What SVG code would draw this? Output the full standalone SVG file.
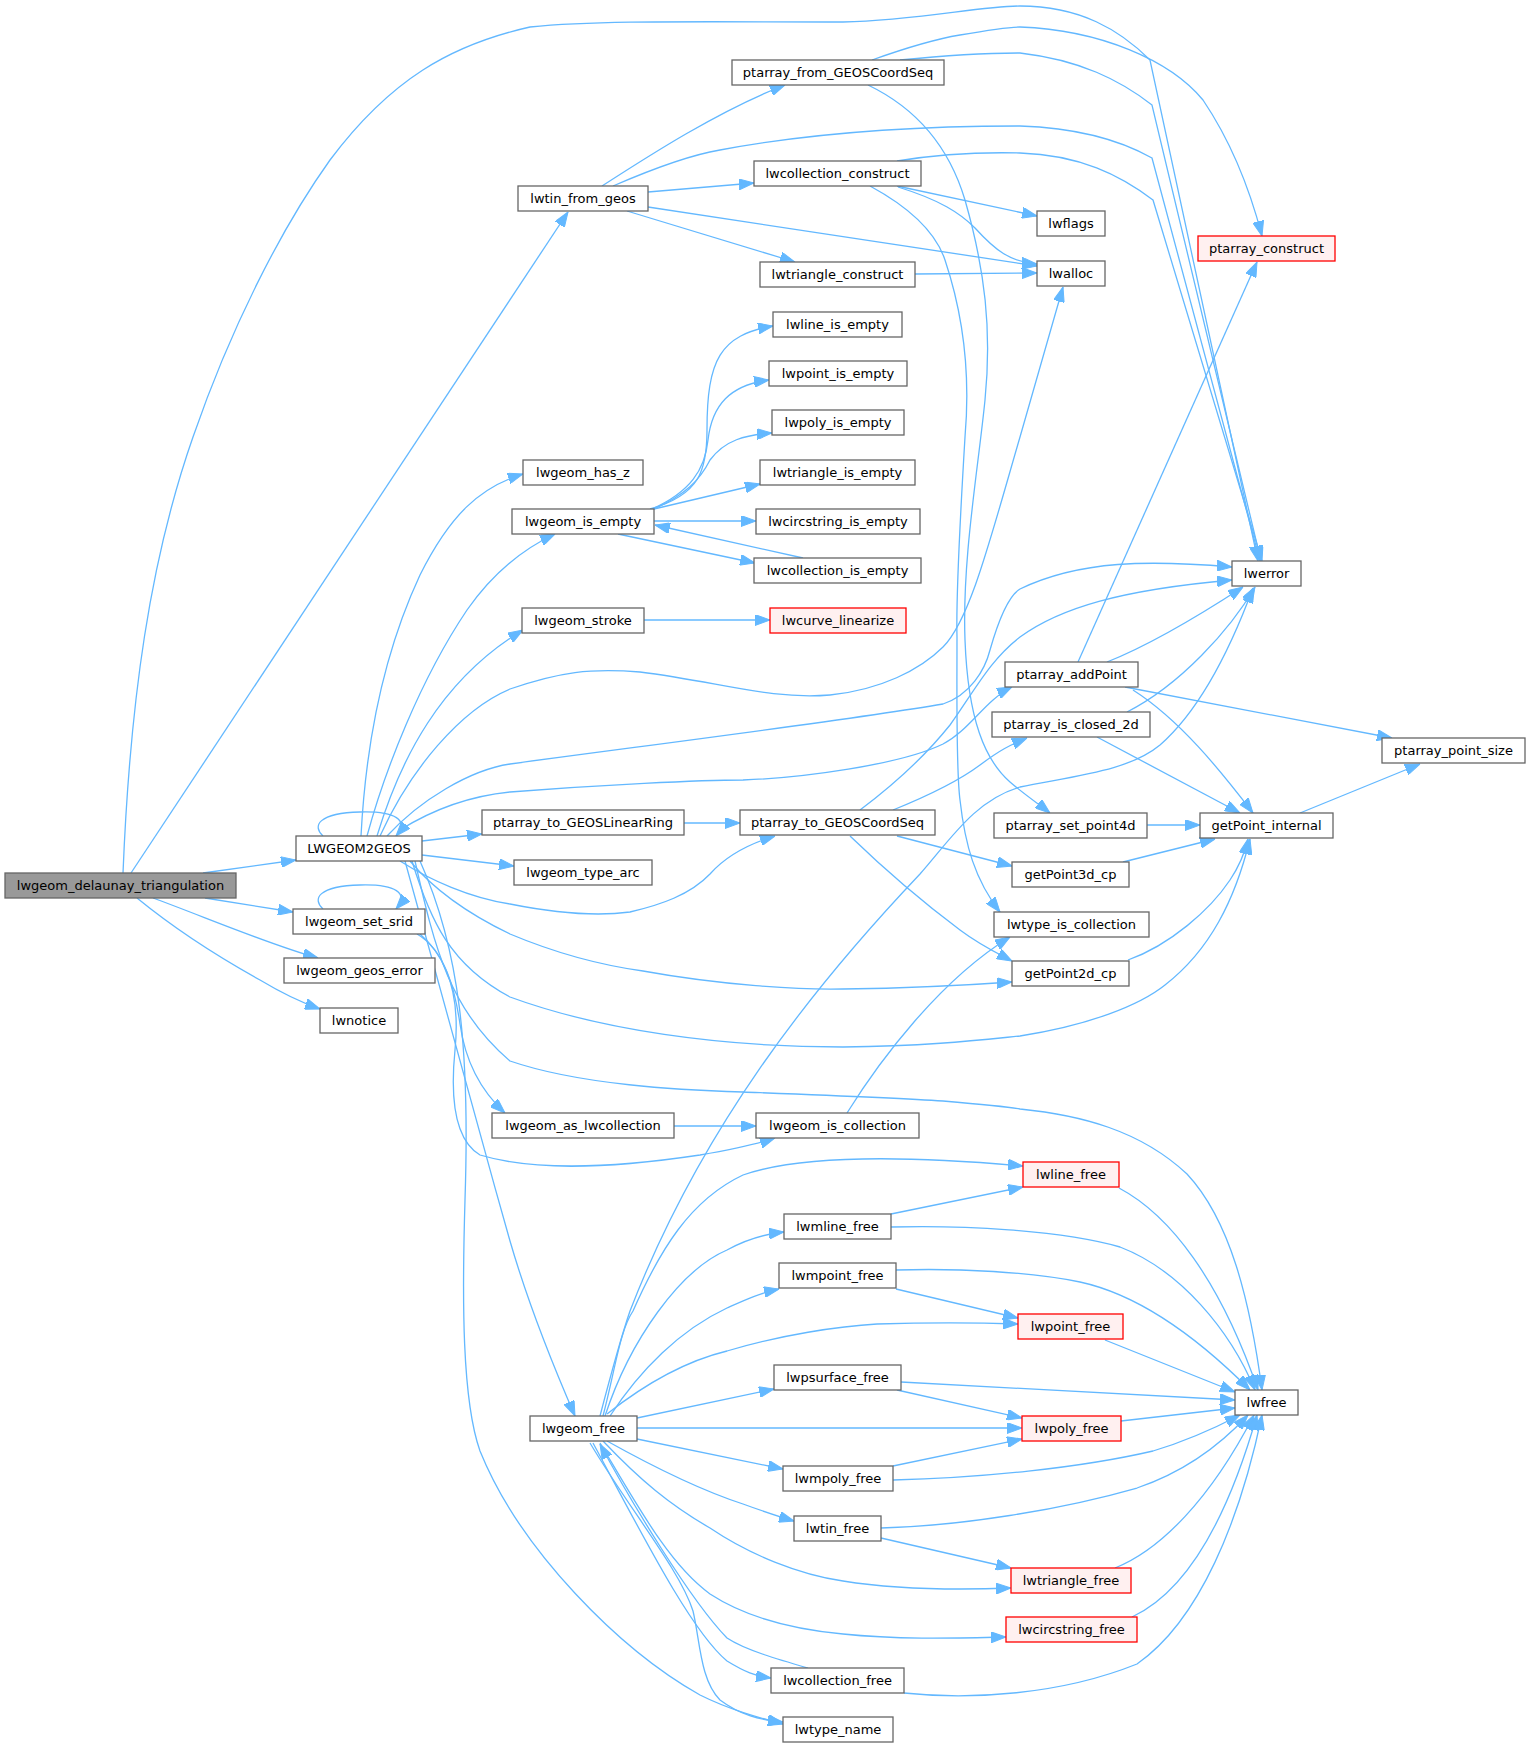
<svg xmlns="http://www.w3.org/2000/svg" width="1531" height="1748" viewBox="0 0 1531 1748">
<style>
.n rect{fill:#fff;stroke:#666;stroke-width:1.3}
.r rect{fill:#FFF0F0;stroke:#F00;stroke-width:1.3}
.root rect{fill:#999;stroke:#666;stroke-width:1.3}
text{font-family:"DejaVu Sans",sans-serif;font-size:13px;text-anchor:middle;fill:#000}
#edges path{fill:none;stroke:#63B8FF;stroke-width:1.3;marker-end:url(#arr)}
</style>
<defs>
<marker id="arr" markerUnits="userSpaceOnUse" markerWidth="15" markerHeight="11" refX="15" refY="5.5" orient="auto" viewBox="0 0 15 11">
<path d="M0,0 L15,5.5 L0,11 z" fill="#63B8FF" stroke="#63B8FF"/>
</marker>
</defs>
<rect width="1531" height="1748" fill="#fff"/>
<g id="edges">
<path d="M131,873 L568,212"/>
<path d="M123,873 C130,700 150,560 193,437 C230,330 280,230 330,160 C390,80 450,45 530,27 C600,20 700,22 843,22 C920,20 980,6 1020,6 C1080,6 1120,30 1150,60 L1258,561"/>
<path d="M203,873 L296,860"/>
<path d="M205,898 L293,912"/>
<path d="M153,898 C200,915 270,945 318,958"/>
<path d="M137,898 C170,925 215,955 260,980 C280,992 300,1002 320,1009"/>
<path d="M602,186 C650,155 720,110 785,85"/>
<path d="M613,186 C650,170 690,155 720,150 C800,135 900,126 1020,126 C1080,128 1120,140 1152,158 L1260,561"/>
<path d="M648,192 L754,183"/>
<path d="M648,207 L1037,266"/>
<path d="M627,211 L795,262"/>
<path d="M897,186 L1037,216"/>
<path d="M898,187 C940,200 960,213 975,228 C995,250 1010,262 1037,264"/>
<path d="M897,161 C940,154 980,152 1020,153 C1080,155 1120,175 1153,200 L1262,561"/>
<path d="M870,186 C905,205 935,230 945,260 C965,320 970,380 965,437 C960,520 956,600 957,637 C957,700 956,770 960,800 C965,845 975,880 1000,912"/>
<path d="M915,274 L1037,273"/>
<path d="M872,60 C900,50 930,40 960,35 C1000,28 1010,27 1020,27 C1100,30 1170,60 1203,100 C1230,140 1250,190 1262,236"/>
<path d="M900,60 C950,55 990,53 1020,53 C1080,60 1120,80 1152,105 L1261,561"/>
<path d="M868,85 C920,110 950,150 965,200 C985,270 992,330 985,400 C978,470 962,560 965,640 C968,720 985,760 1010,782 C1025,795 1040,805 1050,813"/>
<path d="M323,836 C312,826 318,813 360,812 C395,811 410,820 396,836"/>
<path d="M361,836 C366,740 385,650 420,575 C450,515 480,487 523,474"/>
<path d="M367,836 C385,770 420,680 467,610 C495,570 525,548 555,534"/>
<path d="M377,836 C400,760 440,680 523,630"/>
<path d="M380,836 C410,770 460,710 510,689 C560,672 590,668 640,672 C720,682 770,700 830,695 C880,690 920,670 943,647 C970,620 990,540 1020,437 L1063,287"/>
<path d="M387,836 C420,800 470,770 510,764 C650,745 850,720 943,704 C970,695 985,670 990,650 C1000,615 1010,595 1020,589 C1080,560 1150,560 1232,567"/>
<path d="M400,830 C440,805 480,795 510,792 C600,785 700,780 743,780 C800,778 900,765 943,744 C970,730 985,700 1012,687"/>
<path d="M422,841 L482,834"/>
<path d="M422,855 L514,866"/>
<path d="M400,861 C430,880 470,898 510,904 C550,912 593,917 630,912 C660,905 690,895 710,874 C725,857 745,845 775,836"/>
<path d="M410,861 C430,885 460,910 510,934 C560,955 600,965 643,971 C720,985 800,990 843,989 C920,988 970,985 1012,982"/>
<path d="M412,861 C430,920 450,965 510,997 C600,1030 720,1047 843,1047 C930,1046 980,1040 1020,1036 C1090,1025 1140,1005 1165,985 C1210,950 1235,900 1250,839"/>
<path d="M415,861 C435,950 450,1010 510,1061 C580,1085 680,1090 743,1092 C820,1095 900,1098 943,1101 C990,1105 1010,1107 1020,1109 C1080,1115 1140,1130 1187,1174 C1230,1220 1250,1300 1262,1390"/>
<path d="M405,861 C430,950 470,1100 510,1241 C530,1310 555,1370 575,1416"/>
<path d="M420,861 C460,950 470,1050 465,1200 C462,1300 462,1400 480,1451 C520,1550 620,1650 700,1695 C730,1710 760,1718 783,1724"/>
<path d="M323,909 C312,899 318,886 360,885 C395,884 410,893 396,909"/>
<path d="M417,934 C445,950 455,990 460,1024 C465,1060 480,1090 505,1113"/>
<path d="M420,934 C450,960 460,1000 455,1050 C450,1100 455,1140 480,1155 C530,1170 600,1170 700,1155 C740,1148 760,1143 775,1138"/>
<path d="M674,1126 L756,1126"/>
<path d="M847,1113 C880,1060 940,980 1010,937"/>
<path d="M650,509 C700,495 707,470 707,430 C707,360 720,335 773,326"/>
<path d="M652,509 C690,492 705,470 708,440 C712,405 730,385 769,380"/>
<path d="M654,509 C685,495 700,480 710,460 C725,440 745,435 772,433"/>
<path d="M654,509 L760,484"/>
<path d="M654,521 L756,521"/>
<path d="M618,534 L755,563"/>
<path d="M803,558 L655,525"/>
<path d="M644,620 L770,620"/>
<path d="M684,823 L740,823"/>
<path d="M860,810 C900,780 930,750 950,725 C975,690 990,660 1020,637 C1060,608 1120,590 1232,580"/>
<path d="M893,810 C930,795 960,780 980,765 C1000,750 1010,745 1027,738"/>
<path d="M897,836 L1012,866"/>
<path d="M850,836 C880,865 920,900 960,930 C980,945 995,952 1012,961"/>
<path d="M1078,662 L1257,262"/>
<path d="M1107,662 C1150,645 1200,615 1243,587"/>
<path d="M1125,687 L1392,738"/>
<path d="M1133,690 C1180,720 1220,770 1253,813"/>
<path d="M1127,712 C1180,685 1230,630 1255,587"/>
<path d="M1097,737 L1240,813"/>
<path d="M1147,825 L1200,825"/>
<path d="M1300,813 L1420,764"/>
<path d="M1123,862 L1215,839"/>
<path d="M1128,960 C1170,945 1210,910 1230,880 C1240,865 1245,852 1248,839"/>
<path d="M600,1416 C612,1370 620,1340 630,1311 C700,1130 810,990 920,874 C950,840 975,800 1020,787 C1080,775 1130,770 1160,745 C1200,710 1230,650 1253,588"/>
<path d="M603,1416 C615,1370 620,1330 633,1311 C660,1250 690,1200 743,1175 C800,1155 900,1155 1023,1166"/>
<path d="M605,1416 C630,1340 680,1270 727,1250 C745,1240 765,1234 784,1232"/>
<path d="M610,1416 C640,1370 680,1330 727,1308 C745,1300 760,1293 779,1289"/>
<path d="M607,1414 C650,1380 690,1360 727,1351 C780,1335 840,1326 877,1324 C940,1322 990,1323 1018,1324"/>
<path d="M637,1418 L774,1389"/>
<path d="M637,1428 L1022,1428"/>
<path d="M637,1439 L783,1469"/>
<path d="M607,1441 C650,1465 700,1490 743,1504 C765,1512 780,1517 794,1521"/>
<path d="M603,1441 C640,1480 670,1505 710,1528 C750,1555 800,1575 843,1581 C900,1590 960,1590 1011,1588"/>
<path d="M600,1443 C640,1510 670,1565 710,1594 C750,1620 800,1630 843,1634 C900,1640 960,1638 1006,1637"/>
<path d="M593,1443 C640,1530 690,1630 727,1661 C745,1672 755,1676 771,1678"/>
<path d="M808,1668 C780,1660 745,1650 727,1638 C690,1600 630,1500 600,1444"/>
<path d="M590,1443 C630,1510 680,1570 693,1611 C700,1640 700,1680 720,1700 C740,1715 760,1720 783,1722"/>
<path d="M891,1214 L1023,1187"/>
<path d="M891,1227 C960,1225 1060,1230 1120,1247 C1180,1270 1230,1330 1255,1390"/>
<path d="M896,1270 C960,1268 1030,1272 1080,1282 C1140,1295 1200,1340 1250,1390"/>
<path d="M896,1289 L1018,1318"/>
<path d="M1119,1188 C1170,1215 1220,1280 1258,1390"/>
<path d="M1105,1340 L1235,1392"/>
<path d="M901,1382 L1235,1400"/>
<path d="M897,1390 L1022,1418"/>
<path d="M1121,1421 L1235,1408"/>
<path d="M893,1466 L1022,1439"/>
<path d="M893,1480 C980,1478 1080,1468 1153,1451 C1190,1440 1215,1428 1240,1415"/>
<path d="M881,1528 C960,1526 1060,1510 1137,1488 C1190,1470 1225,1440 1248,1415"/>
<path d="M881,1538 L1011,1568"/>
<path d="M1115,1568 C1160,1550 1210,1500 1254,1415"/>
<path d="M1132,1617 C1190,1590 1230,1510 1257,1415"/>
<path d="M904,1693 C970,1700 1060,1695 1137,1664 C1200,1620 1240,1520 1262,1415"/>
</g>
<g id="n1" class="root"><rect x="5" y="873" width="231" height="25"/><text x="120.5" y="890">lwgeom_delaunay_triangulation</text></g>
<g id="n2" class="n"><rect x="518" y="186" width="130" height="25"/><text x="583" y="203">lwtin_from_geos</text></g>
<g id="n3" class="n"><rect x="732" y="60" width="212" height="25"/><text x="838" y="77">ptarray_from_GEOSCoordSeq</text></g>
<g id="n4" class="n"><rect x="754" y="161" width="167" height="25"/><text x="837.5" y="178">lwcollection_construct</text></g>
<g id="n5" class="n"><rect x="760" y="262" width="155" height="25"/><text x="837.5" y="279">lwtriangle_construct</text></g>
<g id="n6" class="n"><rect x="1037" y="211" width="68" height="25"/><text x="1071" y="228">lwflags</text></g>
<g id="n7" class="n"><rect x="1037" y="261" width="68" height="25"/><text x="1071" y="278">lwalloc</text></g>
<g id="n8" class="r"><rect x="1198" y="236" width="137" height="25"/><text x="1266.5" y="253">ptarray_construct</text></g>
<g id="n9" class="n"><rect x="773" y="312" width="129" height="25"/><text x="837.5" y="329">lwline_is_empty</text></g>
<g id="n10" class="n"><rect x="769" y="361" width="138" height="25"/><text x="838" y="378">lwpoint_is_empty</text></g>
<g id="n11" class="n"><rect x="772" y="410" width="132" height="25"/><text x="838" y="427">lwpoly_is_empty</text></g>
<g id="n12" class="n"><rect x="523" y="460" width="120" height="25"/><text x="583" y="477">lwgeom_has_z</text></g>
<g id="n13" class="n"><rect x="760" y="460" width="155" height="25"/><text x="837.5" y="477">lwtriangle_is_empty</text></g>
<g id="n14" class="n"><rect x="512" y="509" width="142" height="25"/><text x="583" y="526">lwgeom_is_empty</text></g>
<g id="n15" class="n"><rect x="756" y="509" width="164" height="25"/><text x="838" y="526">lwcircstring_is_empty</text></g>
<g id="n16" class="n"><rect x="754" y="558" width="167" height="25"/><text x="837.5" y="575">lwcollection_is_empty</text></g>
<g id="n17" class="n"><rect x="1232" y="561" width="69" height="25"/><text x="1266.5" y="578">lwerror</text></g>
<g id="n18" class="n"><rect x="522" y="608" width="122" height="25"/><text x="583" y="625">lwgeom_stroke</text></g>
<g id="n19" class="r"><rect x="770" y="608" width="136" height="25"/><text x="838" y="625">lwcurve_linearize</text></g>
<g id="n20" class="n"><rect x="1005" y="662" width="133" height="25"/><text x="1071.5" y="679">ptarray_addPoint</text></g>
<g id="n21" class="n"><rect x="992" y="712" width="158" height="25"/><text x="1071" y="729">ptarray_is_closed_2d</text></g>
<g id="n22" class="n"><rect x="1382" y="738" width="143" height="25"/><text x="1453.5" y="755">ptarray_point_size</text></g>
<g id="n23" class="n"><rect x="296" y="836" width="126" height="25"/><text x="359" y="853">LWGEOM2GEOS</text></g>
<g id="n24" class="n"><rect x="482" y="810" width="202" height="25"/><text x="583" y="827">ptarray_to_GEOSLinearRing</text></g>
<g id="n25" class="n"><rect x="740" y="810" width="195" height="25"/><text x="837.5" y="827">ptarray_to_GEOSCoordSeq</text></g>
<g id="n26" class="n"><rect x="994" y="813" width="153" height="25"/><text x="1070.5" y="830">ptarray_set_point4d</text></g>
<g id="n27" class="n"><rect x="1200" y="813" width="133" height="25"/><text x="1266.5" y="830">getPoint_internal</text></g>
<g id="n28" class="n"><rect x="514" y="860" width="138" height="25"/><text x="583" y="877">lwgeom_type_arc</text></g>
<g id="n29" class="n"><rect x="1012" y="862" width="117" height="25"/><text x="1070.5" y="879">getPoint3d_cp</text></g>
<g id="n30" class="n"><rect x="293" y="909" width="132" height="25"/><text x="359" y="926">lwgeom_set_srid</text></g>
<g id="n31" class="n"><rect x="994" y="912" width="155" height="25"/><text x="1071.5" y="929">lwtype_is_collection</text></g>
<g id="n32" class="n"><rect x="284" y="958" width="151" height="25"/><text x="359.5" y="975">lwgeom_geos_error</text></g>
<g id="n33" class="n"><rect x="1012" y="961" width="117" height="25"/><text x="1070.5" y="978">getPoint2d_cp</text></g>
<g id="n34" class="n"><rect x="320" y="1008" width="78" height="25"/><text x="359" y="1025">lwnotice</text></g>
<g id="n35" class="n"><rect x="492" y="1113" width="182" height="25"/><text x="583" y="1130">lwgeom_as_lwcollection</text></g>
<g id="n36" class="n"><rect x="756" y="1113" width="163" height="25"/><text x="837.5" y="1130">lwgeom_is_collection</text></g>
<g id="n37" class="r"><rect x="1023" y="1162" width="96" height="25"/><text x="1071" y="1179">lwline_free</text></g>
<g id="n38" class="n"><rect x="784" y="1214" width="107" height="25"/><text x="837.5" y="1231">lwmline_free</text></g>
<g id="n39" class="n"><rect x="779" y="1263" width="117" height="25"/><text x="837.5" y="1280">lwmpoint_free</text></g>
<g id="n40" class="r"><rect x="1018" y="1314" width="105" height="25"/><text x="1070.5" y="1331">lwpoint_free</text></g>
<g id="n41" class="n"><rect x="774" y="1365" width="127" height="25"/><text x="837.5" y="1382">lwpsurface_free</text></g>
<g id="n42" class="n"><rect x="1235" y="1390" width="63" height="25"/><text x="1266.5" y="1407">lwfree</text></g>
<g id="n43" class="n"><rect x="530" y="1416" width="107" height="25"/><text x="583.5" y="1433">lwgeom_free</text></g>
<g id="n44" class="r"><rect x="1022" y="1416" width="99" height="25"/><text x="1071.5" y="1433">lwpoly_free</text></g>
<g id="n45" class="n"><rect x="783" y="1466" width="110" height="25"/><text x="838" y="1483">lwmpoly_free</text></g>
<g id="n46" class="n"><rect x="794" y="1516" width="87" height="25"/><text x="837.5" y="1533">lwtin_free</text></g>
<g id="n47" class="r"><rect x="1011" y="1568" width="120" height="25"/><text x="1071" y="1585">lwtriangle_free</text></g>
<g id="n48" class="r"><rect x="1006" y="1617" width="131" height="25"/><text x="1071.5" y="1634">lwcircstring_free</text></g>
<g id="n49" class="n"><rect x="771" y="1668" width="133" height="25"/><text x="837.5" y="1685">lwcollection_free</text></g>
<g id="n50" class="n"><rect x="783" y="1717" width="110" height="25"/><text x="838" y="1734">lwtype_name</text></g>
</svg>
